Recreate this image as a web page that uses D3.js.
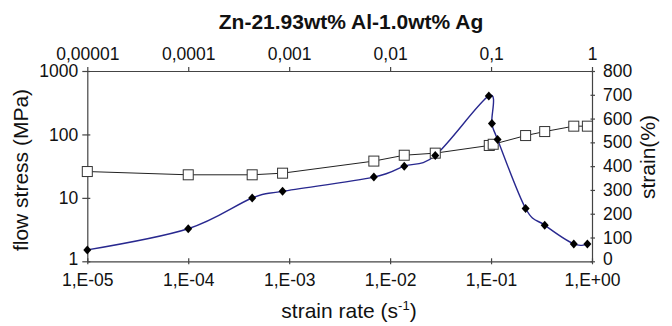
<!DOCTYPE html>
<html>
<head>
<meta charset="utf-8">
<script src="https://cdn.jsdelivr.net/npm/d3@7"></script>
<style>
  html, body { margin: 0; padding: 0; background: #fff; }
  svg { display: block; }
  text { font-family: "Liberation Sans", Arial, Helvetica, sans-serif; fill: #111; }
</style>
</head>
<body>
<svg id="chart" width="672" height="326"></svg>
<script>
// ---- Data ----
const title = "Zn-21.93wt% Al-1.0wt% Ag";
const bottomTickValues = [1e-5, 1e-4, 1e-3, 1e-2, 1e-1, 1];
const bottomTickLabels = ["1,E-05", "1,E-04", "1,E-03", "1,E-02", "1,E-01", "1,E+00"];
const topTickLabels = ["0,00001", "0,0001", "0,001", "0,01", "0,1", "1"];
const leftTickValues = [1, 10, 100, 1000];
const leftTickLabels = ["1", "10", "100", "1000"];
const rightTickValues = [0, 100, 200, 300, 400, 500, 600, 700, 800];

// flow stress (MPa), open squares, left log axis
const stressRate = [1e-5, 1e-4, 4.3e-4, 8.6e-4, 6.9e-3, 0.0138, 0.028, 0.096, 0.105, 0.22, 0.34, 0.66, 0.90];
const stressValue = [26, 23.1, 23.1, 24.5, 38, 47, 50.7, 67, 70, 96, 111, 135, 135];

// strain (%), filled diamonds, right linear axis
const strainRate = [1e-5, 1e-4, 4.3e-4, 8.6e-4, 6.9e-3, 0.0138, 0.028, 0.095, 0.102, 0.116, 0.22, 0.34, 0.66, 0.90];
const strainValue = [48, 137, 266, 294, 354, 400, 445, 695, 579, 512, 222, 152, 73, 73];

// ---- Layout ----
const svg = d3.select("#chart");
const L = 87.3, R = 592, T = 71, B = 261.3;
const axisColor = "#444";

const x = d3.scaleLog().domain([1e-5, 1]).range([L, R]);
const yL = d3.scaleLog().domain([1, 1000]).range([B, T]);
const yR = d3.scaleLinear().domain([0, 800]).range([B, T]);

const fs = 17.5;

// Bottom axis
const gB = svg.append("g").attr("transform", `translate(0,${B})`)
  .call(d3.axisBottom(x).tickValues(bottomTickValues)
    .tickFormat((d, i) => bottomTickLabels[i]).tickSizeInner(3).tickSizeOuter(0).tickPadding(9));
gB.selectAll("line").attr("y1", -3).attr("stroke", axisColor);

// Top axis
const gT = svg.append("g").attr("transform", `translate(0,${T})`)
  .call(d3.axisTop(x).tickValues(bottomTickValues)
    .tickFormat((d, i) => topTickLabels[i]).tickSizeInner(4).tickSizeOuter(0).tickPadding(7));

// Left axis
const gL = svg.append("g").attr("transform", `translate(${L},0)`)
  .call(d3.axisLeft(yL).tickValues(leftTickValues)
    .tickFormat((d, i) => leftTickLabels[i]).tickSizeInner(5).tickSizeOuter(0).tickPadding(4));
gL.selectAll("line").attr("x1", 3);

// Right axis
const gR = svg.append("g").attr("transform", `translate(${R},0)`)
  .call(d3.axisRight(yR).tickValues(rightTickValues)
    .tickFormat(d3.format("d")).tickSizeInner(3).tickSizeOuter(0).tickPadding(8));
gR.selectAll("line").attr("x1", -1.5);

[gB, gT, gL, gR].forEach(g => {
  g.selectAll("path.domain").attr("stroke", axisColor).attr("stroke-width", 1.2);
  g.selectAll(".tick line").attr("stroke", axisColor).attr("stroke-width", 1.2);
  g.selectAll("text").attr("font-size", fs).attr("fill", "#111")
    .attr("font-family", '"Liberation Sans", Arial, sans-serif');
});
// nudge the lowest left / right labels up a little so they clear the bottom labels
gL.selectAll(".tick").filter(d => d === 1).select("text").attr("dy", "0.2em");
gR.selectAll(".tick").filter(d => d === 0).select("text").attr("dy", "0.2em");

// ---- Flow stress series (squares) ----
const stressData = stressRate.map((r, i) => ({ r, v: stressValue[i] }));
svg.append("path")
  .datum(stressData)
  .attr("fill", "none")
  .attr("stroke", "#222")
  .attr("stroke-width", 1)
  .attr("d", d3.line().x(d => x(d.r)).y(d => yL(d.v)));

// ---- Strain series (diamonds) ----
const strainData = strainRate.map((r, i) => ({ r, v: strainValue[i] }));
svg.append("path")
  .datum(strainData)
  .attr("fill", "none")
  .attr("stroke", "#28288f")
  .attr("stroke-width", 1.4)
  .attr("d", d3.line().curve(d3.curveCatmullRom.alpha(0)).x(d => x(d.r)).y(d => yR(d.v)));

svg.append("g").selectAll("rect")
  .data(stressData).join("rect")
  .attr("x", d => x(d.r) - 5).attr("y", d => yL(d.v) - 5)
  .attr("width", 10).attr("height", 10)
  .attr("fill", "#fff").attr("stroke", "#333").attr("stroke-width", 1);

svg.append("g").selectAll("path")
  .data(strainData).join("path")
  .attr("transform", d => `translate(${x(d.r)},${yR(d.v)})`)
  .attr("d", "M0,-4.5L4,0L0,4.5L-4,0Z")
  .attr("fill", "#000");

// ---- Titles ----
svg.append("text")
  .attr("x", 351).attr("y", 29)
  .attr("text-anchor", "middle")
  .attr("font-size", 21).attr("font-weight", "bold")
  .text(title);

const xt = svg.append("text")
  .attr("x", 349).attr("y", 318)
  .attr("text-anchor", "middle")
  .attr("font-size", 21);
xt.append("tspan").text("strain rate (s");
xt.append("tspan").attr("font-size", 13).attr("dy", -8).text("-1");
xt.append("tspan").attr("dy", 8).text(")");

svg.append("text")
  .attr("transform", "translate(28,170) rotate(-90)")
  .attr("text-anchor", "middle")
  .attr("font-size", 21)
  .text("flow stress (MPa)");

svg.append("text")
  .attr("transform", "translate(655,157) rotate(-90)")
  .attr("text-anchor", "middle")
  .attr("font-size", 21)
  .text("strain(%)");
</script>
</body>
</html>
